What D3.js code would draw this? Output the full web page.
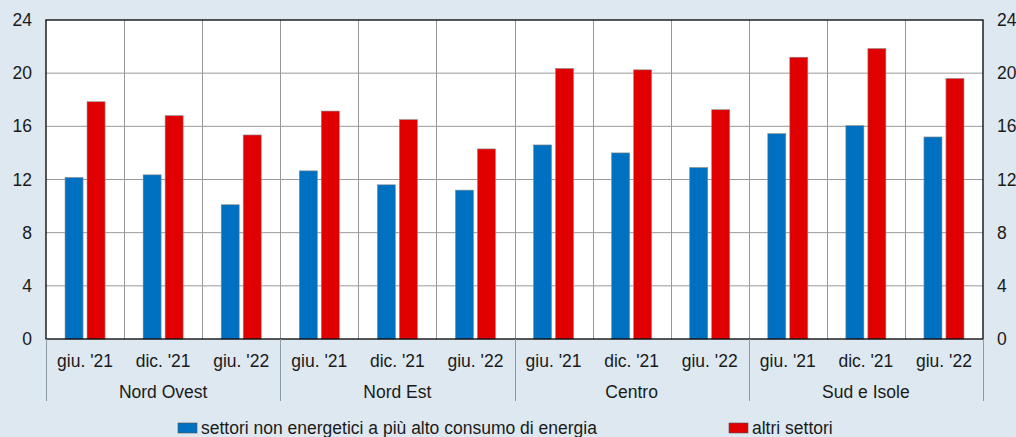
<!DOCTYPE html>
<html>
<head>
<meta charset="utf-8">
<script src="https://cdn.jsdelivr.net/npm/d3@7"></script>
<style>
  body { margin: 0; background: #dde8f1; }
  text { font-family: "Liberation Sans", Arial, sans-serif; fill: #1a1a1a; }
</style>
</head>
<body>
<div id="chart"></div>
<script>
// data
var groups = ["Nord Ovest", "Nord Est", "Centro", "Sud e Isole"]
var periods = ["giu. '21", "dic. '21", "giu. '22"]
var energyIntensive = [12.15, 12.35, 10.1, 12.65, 11.6, 11.2, 14.6, 14.0, 12.9, 15.45, 16.05, 15.2]
var otherSectors = [17.85, 16.8, 15.35, 17.15, 16.5, 14.3, 20.35, 20.25, 17.25, 21.2, 21.85, 19.6]
var yTicks = [0, 4, 8, 12, 16, 20, 24]
var seriesNames = ["settori non energetici a più alto consumo di energia", "altri settori"]
var colors = ["#0070c0", "#e00000"]

var W = 1016, H = 437
var margin = { top: 20, right: 33, bottom: 98, left: 46 },
    width = W - margin.left - margin.right,
    height = H - margin.top - margin.bottom;

var svg = d3.select("#chart").append("svg")
    .attr("width", W).attr("height", H)

var g = svg.append("g")
    .attr("transform", "translate(" + margin.left + "," + margin.top + ")")

// one slot per group/period
var slots = []
groups.forEach(function (gr) { periods.forEach(function (p) { slots.push(gr + "|" + p) }) })

var x = d3.scaleBand().domain(slots).range([0, width])
var y = d3.scaleLinear().domain([0, 24]).range([height, 0])

g.append("rect").attr("width", width).attr("height", height).attr("fill", "#fff")

// horizontal grid
g.selectAll(".hgrid").data(yTicks.slice(1, -1)).enter().append("line")
    .attr("x1", 0).attr("x2", width)
    .attr("y1", d => y(d)).attr("y2", d => y(d))
    .attr("stroke", "#999").attr("stroke-width", 1)

// vertical grid between slots
g.selectAll(".vgrid").data(slots.slice(1)).enter().append("line")
    .attr("x1", d => Math.round(x(d)) + 0.5).attr("x2", d => Math.round(x(d)) + 0.5)
    .attr("y1", 0).attr("y2", height)
    .attr("stroke", "#999").attr("stroke-width", 1)

// bars
var bw = 18, gap = 2
var bars = [energyIntensive, otherSectors]
bars.forEach(function (vals, i) {
    g.selectAll(".bar" + i).data(vals).enter().append("rect")
        .attr("x", (d, j) => x(slots[j]) + x.bandwidth() / 2 + (i === 0 ? -gap - bw : gap))
        .attr("y", d => y(d))
        .attr("width", bw)
        .attr("height", d => height - y(d))
        .attr("fill", colors[i])
        .attr("stroke", "#8a8a8a").attr("stroke-width", 0.6)
})

// frame
g.append("rect").attr("width", width).attr("height", height)
    .attr("fill", "none").attr("stroke", "#000").attr("stroke-width", 1.3)

// y labels both sides
var yLeft = d3.axisLeft(y).tickValues(yTicks).tickSize(0).tickPadding(14)
var yRight = d3.axisRight(y).tickValues(yTicks).tickSize(0).tickPadding(14)
g.append("g").call(yLeft).call(a => a.select(".domain").remove())
g.append("g").attr("transform", "translate(" + width + ",0)").call(yRight)
    .call(a => a.select(".domain").remove())
g.selectAll(".tick text").style("font-size", "17.5px")
    .style("font-family", "'Liberation Sans', Arial, sans-serif").attr("fill", "#1a1a1a")

// period labels
g.selectAll(".plabel").data(slots).enter().append("text")
    .attr("x", d => x(d) + x.bandwidth() / 2)
    .attr("y", height + 28)
    .attr("text-anchor", "middle")
    .style("font-size", "17.5px")
    .text(d => d.split("|")[1])

// group labels and separators
var gw = x.bandwidth() * periods.length
g.selectAll(".glabel").data(groups).enter().append("text")
    .attr("x", (d, i) => i * gw + gw / 2)
    .attr("y", height + 59)
    .attr("text-anchor", "middle")
    .style("font-size", "17.5px")
    .text(d => d)

g.selectAll(".gsep").data(d3.range(groups.length + 1)).enter().append("line")
    .attr("x1", d => Math.round(d * gw) + 0.5).attr("x2", d => Math.round(d * gw) + 0.5)
    .attr("y1", height).attr("y2", height + 62)
    .attr("stroke", "#8a9aa6").attr("stroke-width", 1)

// legend
var legendX = [178, 729]
seriesNames.forEach(function (name, i) {
    svg.append("rect").attr("x", legendX[i]).attr("y", 423)
        .attr("width", 19).attr("height", 10)
        .attr("fill", colors[i]).attr("stroke", "#555").attr("stroke-width", 0.6)
    svg.append("text").attr("x", legendX[i] + 23).attr("y", 434)
        .style("font-size", "17.5px").text(name)
})
</script>
</body>
</html>
